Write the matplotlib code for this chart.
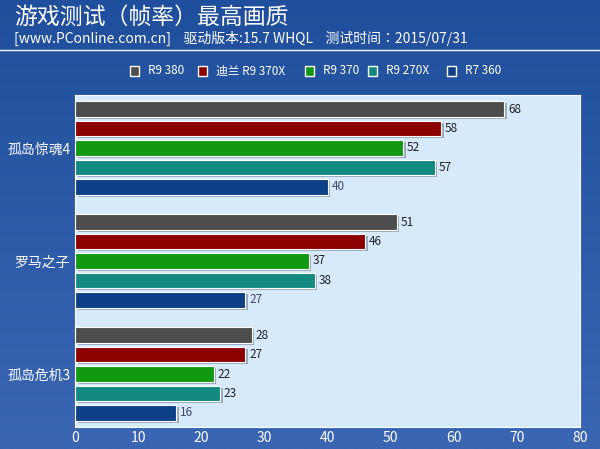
import matplotlib
matplotlib.use("Agg")
import matplotlib.pyplot as plt
import numpy as np
from matplotlib.patches import Rectangle
from matplotlib import font_manager as fm
from matplotlib.colors import LinearSegmentedColormap

for f in fm.findSystemFonts():
    if "cjk" in f.lower():
        try:
            fm.fontManager.addfont(f)
        except Exception:
            pass
names = sorted({f.name for f in fm.fontManager.ttflist if "CJK" in f.name})
fam = "Noto Sans CJK SC" if "Noto Sans CJK SC" in names else (names[0] if names else "DejaVu Sans")
plt.rcParams['font.family'] = [fam, "DejaVu Sans"]

categories = ["孤岛惊魂4", "罗马之子", "孤岛危机3"]
series = ["R9 380", "迪兰 R9 370X", "R9 370", "R9 270X", "R7 360"]
values = {
    "R9 380":      [68, 51, 28],
    "迪兰 R9 370X": [58, 46, 27],
    "R9 370":      [52, 37, 22],
    "R9 270X":     [57, 38, 23],
    "R7 360":      [40, 27, 16],
}
colors = ["#4d4d4d", "#8c0000", "#129912", "#128a82", "#0c3f86"]
xticks = [0, 10, 20, 30, 40, 50, 60, 70, 80]

W, H = 600, 449
fig = plt.figure(figsize=(W/100, H/100), dpi=100)
bg = fig.add_axes([0, 0, 1, 1])
grad = np.linspace(0, 1, 256).reshape(-1, 1)
cmap = LinearSegmentedColormap.from_list("b", ["#1f4f9c", "#3a66b4"])
bg.imshow(grad, aspect='auto', cmap=cmap, extent=[0, 1, 0, 1], origin='upper')
bg.set_axis_off()
bg.plot([0.0, 1.0], [1-50/H, 1-50/H], color="white", lw=1, transform=bg.transAxes)

fig.text(14/W, 1-17/H, "游戏测试（帧率）最高画质", color="white", fontsize=16.5, va='center', ha='left')
fig.text(14/W, 1-38/H, "[www.PConline.com.cn]    驱动版本:15.7 WHQL    测试时间：2015/07/31",
         color="white", fontsize=10, va='center', ha='left')

lx = [130, 198, 305, 368, 447]
for x, s, c in zip(lx, series, colors):
    bg.add_patch(Rectangle((x/W, 1-76/H), 9/W, 10/H, facecolor=c, edgecolor="white", lw=1, transform=bg.transAxes))
    fig.text((x+18)/W, 1-71/H, s, color="white", fontsize=8.5, va='center', ha='left')

ax = fig.add_axes([75/W, 1-427/H, 505/W, 332/H])
ax.set_facecolor("#d6eafc")
for sp in ax.spines.values():
    sp.set_color("white")
gap = 5.8
for i, (s, c) in enumerate(zip(series, colors)):
    ys = [g*gap + i for g in range(3)]
    vals = values[s]
    ax.barh([y+0.1 for y in ys], vals, height=0.78, left=0.4, color="#9aaabb", zorder=1)
    ax.barh(ys, vals, height=0.78, color=c, edgecolor="white", lw=0.8, zorder=2)
    for y, v in zip(ys, vals):
        ax.text(v+0.6, y, str(v), va='center', ha='left', fontsize=8.5,
                color="#222222" if i < 4 else "#444466", zorder=3)
ax.set_ylim(2*gap+4+0.72, -0.72)
ax.set_xlim(0, 80)
ax.set_xticks(xticks)
ax.set_xticklabels([str(t) for t in xticks], color="white", fontsize=10)
ax.set_yticks([g*gap+2 for g in range(3)])
ax.set_yticklabels(categories, color="white", fontsize=10)
ax.tick_params(length=0, pad=3)
fig.savefig("out.png", dpi=100)
